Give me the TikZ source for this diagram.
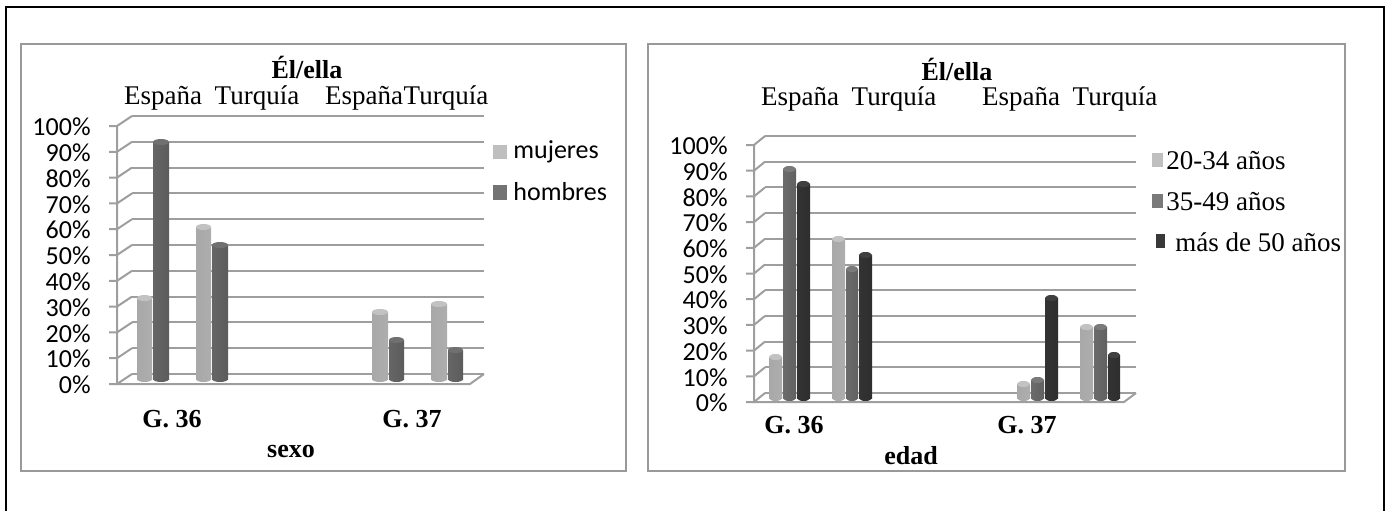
\documentclass[tikz,border=0pt]{standalone}
\usepackage{fontspec}
\setmainfont{Liberation Serif}
\newfontfamily\calib{Carlito}
\begin{document}
\begin{tikzpicture}[x=0.5pt,y=-0.5pt,
  grid/.style={draw=black!38,line width=1pt},
  chartbox/.style={draw=black!40,line width=1pt},
  frameline/.style={draw=black,line width=1.3pt},
  serif/.style={font=\fontsize{13.5}{15}\selectfont,inner sep=0pt},
  serifb/.style={font=\fontsize{13}{15}\selectfont\bfseries,inner sep=0pt},
  sanslab/.style={font=\fontsize{13}{15}\selectfont\calib,inner sep=0pt},
]
\useasboundingbox (0,0) rectangle (1388,510);
% outer frame
\draw[frameline] (6,515) -- (6,7) -- (1384,7) -- (1384,515);
% chart boxes
\draw[chartbox] (20.5,44) rectangle (626,471);
\draw[chartbox] (648,44) rectangle (1345,471);

% cylinder macro: x1, x2, ytop, ybase, colour-left, colour-mid, colour-right, top colour
\newcommand\mycyl[8]{%
  \pgfmathsetmacro\cx{(#1+#2)/2}%
  \pgfmathsetmacro\rx{(#2-#1)/2}%
  \shade[left color=#5,middle color=#6,right color=#7]
    (\cx,#4) ellipse[x radius=\rx,y radius=3];
  \shade[left color=#5,middle color=#6,right color=#7]
    (#1,#3) rectangle (#2,#4);
  \fill[#8] (\cx,#3) ellipse[x radius=\rx,y radius=3];
}

%%%%%%%%%% LEFT CHART %%%%%%%%%%
\foreach \v in {0,...,10}{
  \pgfmathsetmacro\yb{374-\v*25.8}
  \pgfmathsetmacro\yf{\yb+10}
  \draw[grid] (132,\yb) -- (484,\yb);
  \draw[grid] (109,\yf) -- (117,\yf) -- (132,\yb);
}
\draw[grid] (117,126) -- (117,384) -- (470,384) -- (484,374);
\foreach \v/\n in {0/a,1/b,2/c,3/d,4/e,5/f,6/g,7/h,8/i,9/j,10/k}{
  \pgfmathsetmacro\yf{384-\v*25.8}
  \pgfmathtruncatemacro\p{\v*10}
  \node[sanslab,anchor=east] (L\n) at (91,\yf+1) {\p\%};
}
% bars left: base 379, scale 2.58 per %
\def\lgA{black!34}\def\lgB{black!16}\def\lgC{black!32}\def\lgT{black!24}
\def\dkA{black!60}\def\dkB{black!46}\def\dkC{black!64}\def\dkT{black!56}
\mycyl{137}{152}{298}{379}{\lgA}{\lgB}{\lgC}{\lgT}
\mycyl{153}{169}{142}{379}{\dkA}{\dkB}{\dkC}{\dkT}
\mycyl{196}{211}{227}{379}{\lgA}{\lgB}{\lgC}{\lgT}
\mycyl{212}{228}{245}{379}{\dkA}{\dkB}{\dkC}{\dkT}
\mycyl{372}{388}{312}{379}{\lgA}{\lgB}{\lgC}{\lgT}
\mycyl{389}{404}{340}{379}{\dkA}{\dkB}{\dkC}{\dkT}
\mycyl{431}{447}{304}{379}{\lgA}{\lgB}{\lgC}{\lgT}
\mycyl{448}{463}{350}{379}{\dkA}{\dkB}{\dkC}{\dkT}
% texts left
\node[serifb] (t1) at (307,67) {Él/ella};
\node[serif] (e1) at (163,98) {España};
\node[serif] (u1) at (257,98) {Turquía};
\node[serif] (e2) at (364,98) {España};
\node[serif] (u2) at (446,98) {Turquía};
\node[serifb] (g1) at (172,419) {G. 36};
\node[serifb] (g2) at (412,419) {G. 37};
\node[serifb] (sx) at (291,451) {sexo};
% legend left
\fill[black!25] (493,145) rectangle (507,159);
\fill[black!55] (493,185) rectangle (507,200);
\node[sanslab,anchor=west] (m1) at (513,152) {mujeres};
\node[sanslab,anchor=west] (h1) at (513,192) {hombres};

%%%%%%%%%% RIGHT CHART %%%%%%%%%%
\foreach \v in {0,...,10}{
  \pgfmathsetmacro\yb{393-\v*25.7}
  \pgfmathsetmacro\yf{\yb+9}
  \draw[grid] (765,\yb) -- (1136,\yb);
  \draw[grid] (746,\yf) -- (754,\yf) -- (765,\yb);
}
\draw[grid] (754,145) -- (754,402) -- (1124,402) -- (1136,393);
\foreach \v/\n in {0/a,1/b,2/c,3/d,4/e,5/f,6/g,7/h,8/i,9/j,10/k}{
  \pgfmathsetmacro\yf{402-\v*25.7}
  \pgfmathtruncatemacro\p{\v*10}
  \node[sanslab,anchor=east] (R\n) at (728,\yf+1) {\p\%};
}
\def\mdA{black!58}\def\mdB{black!42}\def\mdC{black!62}\def\mdT{black!52}
\def\bkA{black!80}\def\bkB{black!70}\def\bkC{black!82}\def\bkT{black!75}
% G.36 Espana
\mycyl{769}{782}{357}{398}{\lgA}{\lgB}{\lgC}{\lgT}
\mycyl{783}{796}{169}{398}{\mdA}{\mdB}{\mdC}{\mdT}
\mycyl{797}{810}{184}{398}{\bkA}{\bkB}{\bkC}{\bkT}
% G.36 Turquia
\mycyl{832}{845}{239}{398}{\lgA}{\lgB}{\lgC}{\lgT}
\mycyl{846}{858}{269}{398}{\mdA}{\mdB}{\mdC}{\mdT}
\mycyl{859}{872}{255}{398}{\bkA}{\bkB}{\bkC}{\bkT}
% G.37 Espana
\mycyl{1017}{1030}{384}{398}{\lgA}{\lgB}{\lgC}{\lgT}
\mycyl{1031}{1044}{380}{398}{\mdA}{\mdB}{\mdC}{\mdT}
\mycyl{1045}{1058}{298}{398}{\bkA}{\bkB}{\bkC}{\bkT}
% G.37 Turquia
\mycyl{1080}{1093}{327}{398}{\lgA}{\lgB}{\lgC}{\lgT}
\mycyl{1094}{1107}{327}{398}{\mdA}{\mdB}{\mdC}{\mdT}
\mycyl{1108}{1120}{355}{398}{\bkA}{\bkB}{\bkC}{\bkT}
% texts right
\node[serifb] (t2) at (957,69) {Él/ella};
\node[serif] (e3) at (800,99) {España};
\node[serif] (u3) at (894,99) {Turquía};
\node[serif] (e4) at (1021,99) {España};
\node[serif] (u4) at (1115,99) {Turquía};
\node[serifb] (g3) at (794,425) {G. 36};
\node[serifb] (g4) at (1027,425) {G. 37};
\node[serifb] (ed) at (911,456) {edad};
% legend right
\fill[black!25] (1152,153) rectangle (1163,167);
\fill[black!52] (1152,194) rectangle (1163,208);
\fill[black!78] (1156,234) rectangle (1165,248);
\node[serif,anchor=west] (a1) at (1166,161) {20-34 años};
\node[serif,anchor=west] (a2) at (1166,202) {35-49 años};
\node[serif,anchor=west] (a3) at (1175,242) {más de 50 años};
\end{tikzpicture}
\end{document}
